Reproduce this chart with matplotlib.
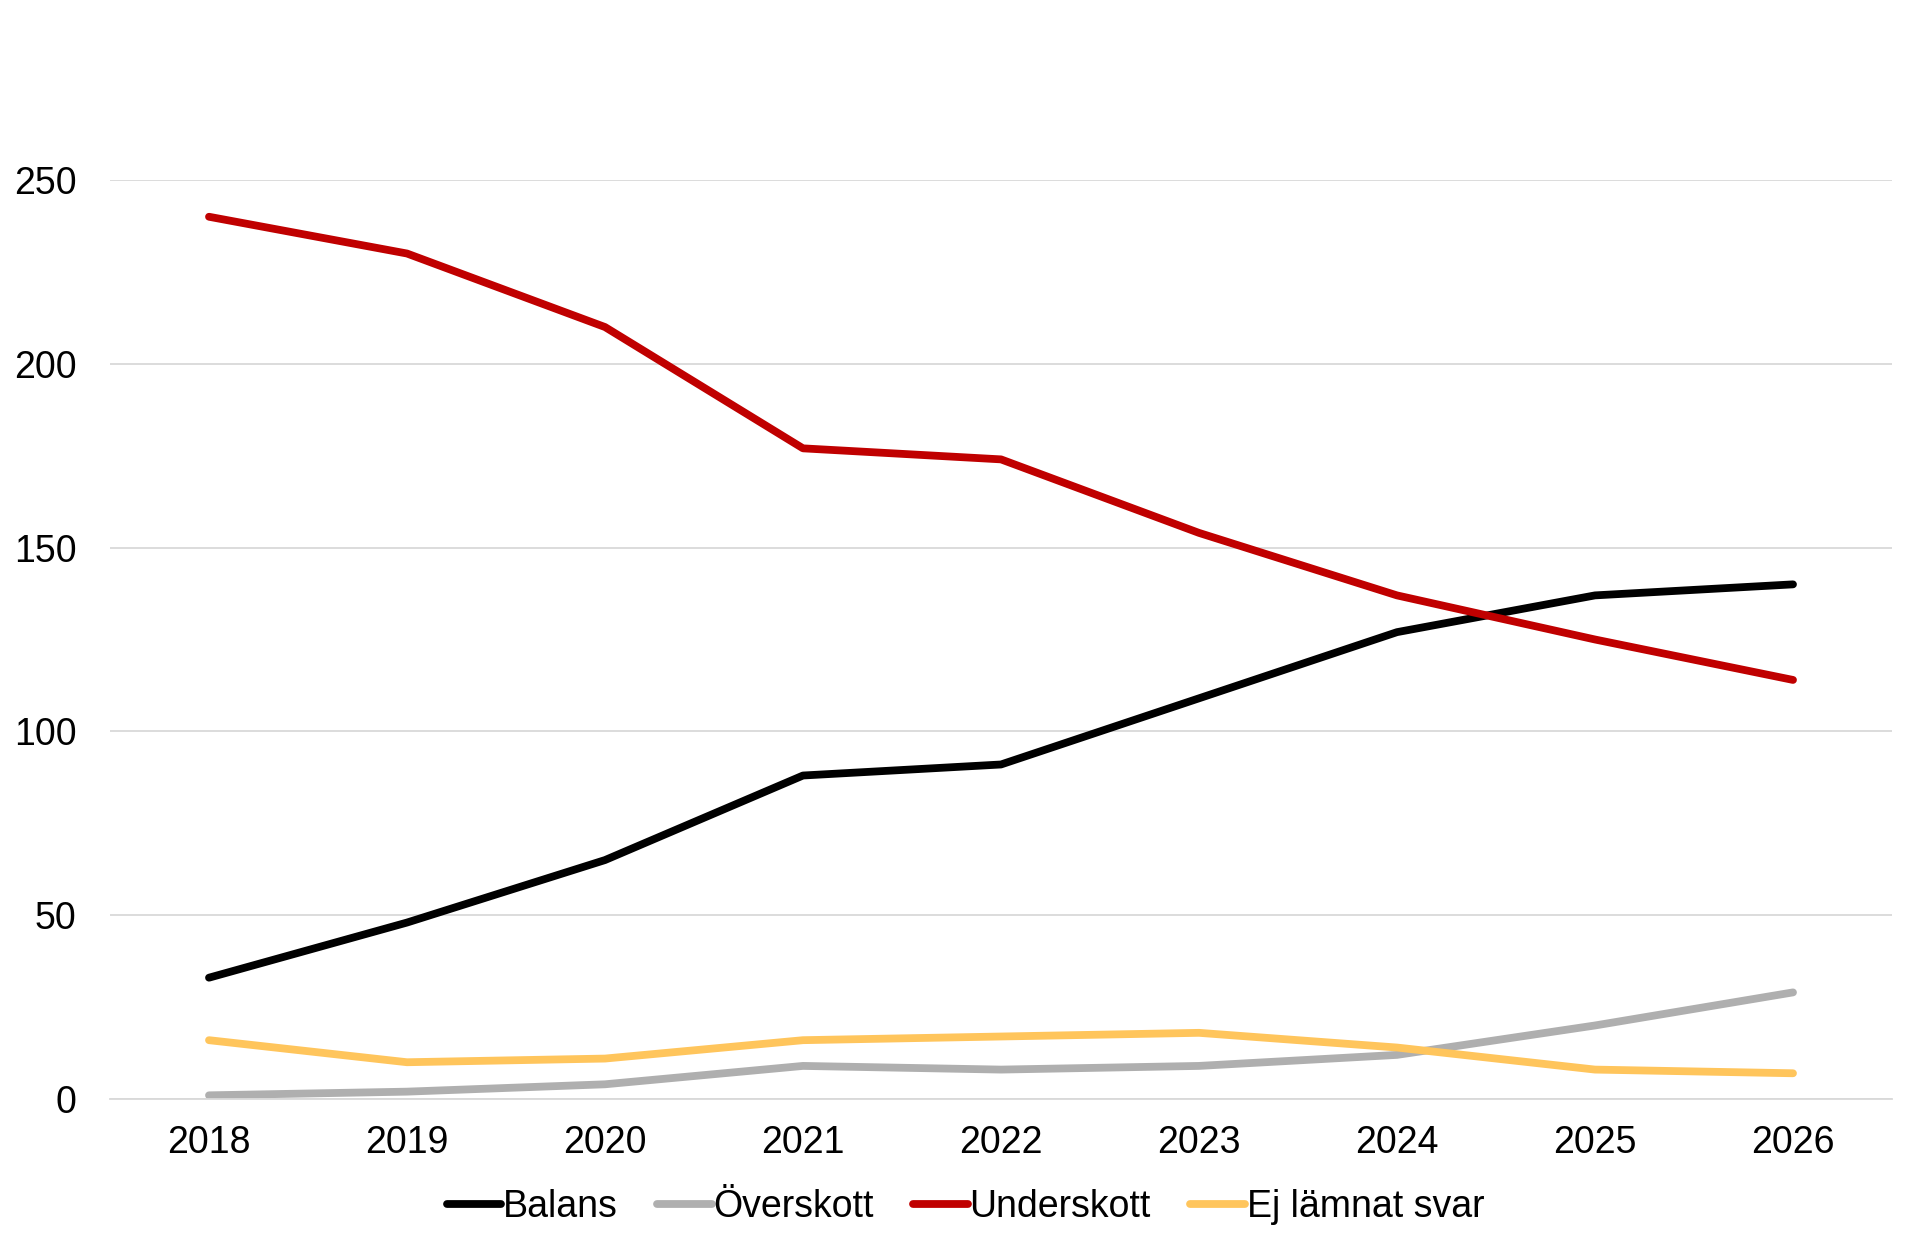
import matplotlib.pyplot as plt
import numpy as np

plt.rcParams['font.family'] = ['Liberation Sans', 'DejaVu Sans']

years = ['2018', '2019', '2020', '2021', '2022', '2023', '2024', '2025', '2026']
balans = [33, 48, 65, 88, 91, 109, 127, 137, 140]
overskott = [1, 2, 4, 9, 8, 9, 12, 20, 29]
underskott = [240, 230, 210, 177, 174, 154, 137, 125, 114]
ej_svar = [16, 10, 11, 16, 17, 18, 14, 8, 7]

series = [
    ('Balans', balans, '#000000'),
    ('Överskott', overskott, '#AFAFAF'),
    ('Underskott', underskott, '#C00000'),
    ('Ej lämnat svar', ej_svar, '#FFC55C'),
]

fig = plt.figure(figsize=(19.2, 12.5), dpi=100)
ax = fig.add_axes([110 / 1920, 1 - 1099 / 1250, (1892 - 110) / 1920, (1099 - 180) / 1250])

x = np.arange(len(years))
for name, vals, col in series:
    ax.plot(x, vals, color=col, lw=5.6, solid_capstyle='round', solid_joinstyle='round', label=name)

ax.set_xlim(-0.5, len(years) - 0.5)
ax.set_ylim(0, 250)
ax.set_yticks([0, 50, 100, 150, 200, 250])
ax.set_xticks(x)
ax.set_xticklabels(years)
ax.yaxis.grid(True, color='#D9D9D9', lw=1.3)
ax.set_axisbelow(True)
for s in ['top', 'right', 'left']:
    ax.spines[s].set_visible(False)
ax.spines['bottom'].set_color('#D9D9D9')
ax.spines['bottom'].set_linewidth(1.3)
ax.tick_params(axis='both', length=0, labelsize=27)
ax.tick_params(axis='x', pad=19)
ax.tick_params(axis='y', pad=24)

ax.legend(loc='center', bbox_to_anchor=(0.48, -0.1175), ncol=4, frameon=False,
          fontsize=27, handlelength=1.45, handletextpad=0.05, columnspacing=1.05)

fig.savefig('out.png', dpi=100, facecolor='white')
